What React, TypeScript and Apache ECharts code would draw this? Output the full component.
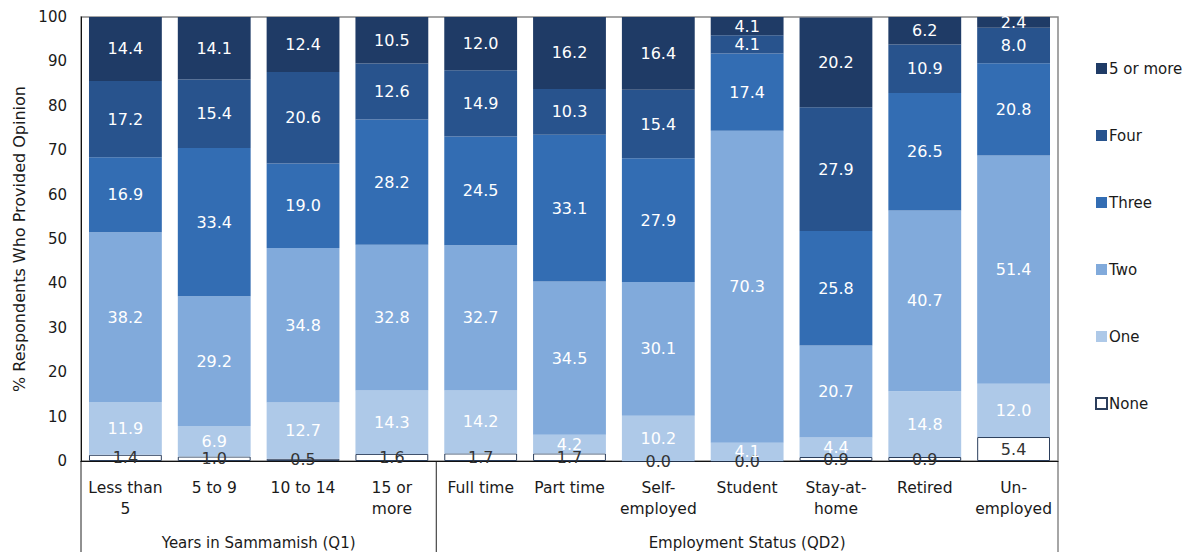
import React, { useEffect, useRef } from "react";
import * as echarts from "echarts";

const categories = [
  "Less than\n5",
  "5 to 9",
  "10 to 14",
  "15 or\nmore",
  "Full time",
  "Part time",
  "Self-\nemployed",
  "Student",
  "Stay-at-\nhome",
  "Retired",
  "Un-\nemployed",
];

const noneValues = [1.4, 1.0, 0.5, 1.6, 1.7, 1.7, 0.0, 0.0, 0.9, 0.9, 5.4];
const oneValues = [11.9, 6.9, 12.7, 14.3, 14.2, 4.2, 10.2, 4.1, 4.4, 14.8, 12.0];
const twoValues = [38.2, 29.2, 34.8, 32.8, 32.7, 34.5, 30.1, 70.3, 20.7, 40.7, 51.4];
const threeValues = [16.9, 33.4, 19.0, 28.2, 24.5, 33.1, 27.9, 17.4, 25.8, 26.5, 20.8];
const fourValues = [17.2, 15.4, 20.6, 12.6, 14.9, 10.3, 15.4, 4.1, 27.9, 10.9, 8.0];
const fiveValues = [14.4, 14.1, 12.4, 10.5, 12.0, 16.2, 16.4, 4.1, 20.2, 6.2, 2.4];

const groups = [
  { name: "Years in Sammamish (Q1)", count: 4 },
  { name: "Employment Status (QD2)", count: 7 },
];

const FONT = "DejaVu Sans";
const GRID_LEFT = 81;
const GRID_RIGHT_X = 1058;
const GRID_TOP = 17;
const GRID_BOTTOM_Y = 461;
const H = 552;

export default function App() {
  const ref = useRef<HTMLDivElement>(null);
  useEffect(() => {
    if (!ref.current) return;
    const chart = echarts.init(ref.current, null, { renderer: "svg" });
    const gridW = GRID_RIGHT_X - GRID_LEFT;
    const catW = gridW / categories.length;

    const mk = (name: string, data: number[], color: string, labelColor: string, extra: any = {}) => ({
      name,
      type: "bar",
      stack: "total",
      data,
      barCategoryGap: "18%",
      itemStyle: { color, ...extra },
      label: {
        show: true,
        position: "inside",
        color: labelColor,
        fontFamily: FONT,
        fontSize: 16,
        formatter: (p: any) => Number(p.value).toFixed(1),
      },
      emphasis: { disabled: true },
    });

    const graphics: any[] = [];
    let acc = 0;
    graphics.push({
      type: "line",
      shape: { x1: GRID_LEFT, y1: GRID_BOTTOM_Y, x2: GRID_LEFT, y2: H },
      style: { stroke: "#222", lineWidth: 1 },
    });
    groups.forEach((g, i) => {
      const x0 = GRID_LEFT + acc * catW;
      acc += g.count;
      const x1 = GRID_LEFT + acc * catW;
      graphics.push({
        type: "text",
        x: (x0 + x1) / 2,
        y: 543,
        style: {
          text: g.name,
          font: `15px "${FONT}"`,
          fill: "#1a1a1a",
          align: "center",
          verticalAlign: "middle",
        },
      });
      if (i < groups.length - 1) {
        graphics.push({
          type: "line",
          shape: { x1: x1, y1: GRID_BOTTOM_Y, x2: x1, y2: H },
          style: { stroke: "#222", lineWidth: 1 },
        });
      }
    });
    graphics.push({
      type: "line",
      shape: { x1: GRID_RIGHT_X, y1: GRID_BOTTOM_Y, x2: GRID_RIGHT_X, y2: H },
      style: { stroke: "#888", lineWidth: 1.5 },
    });

    chart.setOption({
      animation: false,
      grid: {
        left: GRID_LEFT,
        top: GRID_TOP,
        width: gridW,
        height: GRID_BOTTOM_Y - GRID_TOP,
        show: true,
        borderColor: "#888",
        borderWidth: 1.5,
        backgroundColor: "transparent",
      },
      legend: {
        orient: "vertical",
        left: 1090,
        top: 56,
        itemGap: 52,
        itemWidth: 11,
        itemHeight: 11,
        icon: "rect",
        selectedMode: false,
        data: ["5 or more", "Four", "Three", "Two", "One", "None"],
        textStyle: { fontFamily: FONT, fontSize: 15, color: "#1a1a1a", padding: [0, 0, 0, -3] },
      },
      xAxis: {
        type: "category",
        data: categories,
        axisLine: { show: true, lineStyle: { color: "#111", width: 1 } },
        axisTick: { show: false },
        axisLabel: {
          interval: 0,
          margin: 16,
          fontFamily: FONT,
          fontSize: 15.5,
          lineHeight: 21,
          color: "#1a1a1a",
        },
      },
      yAxis: {
        type: "value",
        min: 0,
        max: 100,
        interval: 10,
        name: "% Respondents Who Provided Opinion",
        nameLocation: "middle",
        nameGap: 52,
        nameTextStyle: { fontFamily: FONT, fontSize: 16, color: "#1a1a1a" },
        axisLine: { show: true, lineStyle: { color: "#111", width: 1 } },
        axisTick: { show: false },
        splitLine: { show: false },
        axisLabel: { fontFamily: FONT, fontSize: 15, color: "#1a1a1a", margin: 14 },
      },
      series: [
        mk("None", noneValues, "#ffffff", "#333333", { borderColor: "#2b3e5c", borderWidth: 1 }),
        mk("One", oneValues, "#aec9e8", "#ffffff"),
        mk("Two", twoValues, "#81aadb", "#ffffff"),
        mk("Three", threeValues, "#336db3", "#ffffff"),
        mk("Four", fourValues, "#28538d", "#ffffff"),
        mk("5 or more", fiveValues, "#1f3b66", "#ffffff"),
      ],
      graphic: graphics,
    });
    return () => chart.dispose();
  }, []);
  return <div ref={ref} style={{ width: 1194, height: 552, position: "absolute", left: 0, top: 0 }} />;
}
